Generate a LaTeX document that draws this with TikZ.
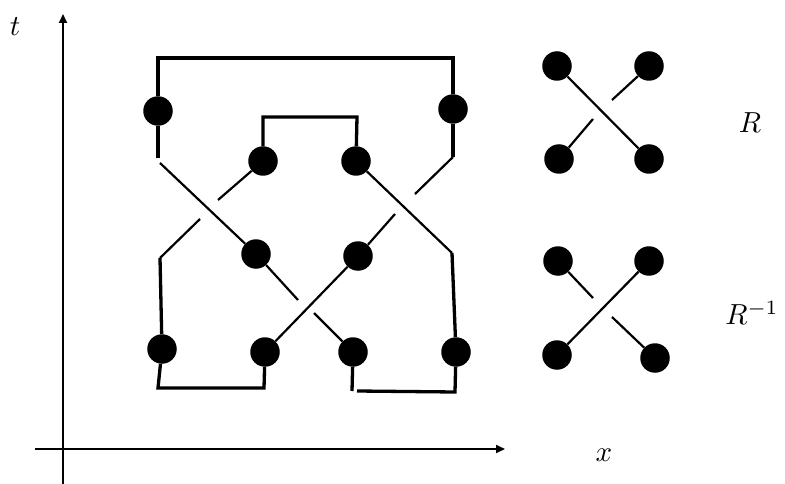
\documentclass[tikz,border=0pt]{standalone}
\usetikzlibrary{arrows.meta}
\begin{document}
\begin{tikzpicture}[x=1pt,y=-1pt,
  dot/.style={circle,fill=black,inner sep=0pt,minimum size=29.5pt},
  frame/.style={line width=3.3pt,line join=miter},
  strand/.style={line width=2.2pt},
  axis/.style={line width=2pt,-{Triangle[length=9pt,width=8pt]}},
  lab/.style={scale=2.9,inner sep=0pt}]
\useasboundingbox (0,0) rectangle (785,484);
% axes
\coordinate (vb) at (63,485);
\coordinate (vt) at (63,14);
\coordinate (hl) at (35,449);
\coordinate (hr) at (505,449);
\draw[axis] (vb) -- (vt);
\draw[axis] (hl) -- (hr);
\node[lab] (tl) at (15,27) {$t$};
\node[lab] (xl) at (604,455) {$x$};
% dots of the braid
\node[dot] (a1) at (158,111) {};
\node[dot] (a2) at (453,109) {};
\node[dot] (b1) at (263,161) {};
\node[dot] (b2) at (356,161) {};
\node[dot] (c1) at (256,254) {};
\node[dot] (c2) at (358,256) {};
\node[dot] (d1) at (162,349) {};
\node[dot] (d2) at (265,352) {};
\node[dot] (d3) at (353,352) {};
\node[dot] (d4) at (456,352) {};
% corner and end coordinates
\coordinate (k1) at (158,58);
\coordinate (k2) at (453,58);
\coordinate (k3) at (158,158);
\coordinate (k4) at (453,157);
\coordinate (k5) at (415,194);
\coordinate (k6) at (263,117);
\coordinate (k7) at (357,117);
\coordinate (e1) at (218,200);
\coordinate (e2) at (200,219);
\coordinate (e3) at (160,258);
\coordinate (e4) at (160,163);
\coordinate (e5) at (298,300);
\coordinate (e6) at (314,313);
\coordinate (e7) at (395,214);
\coordinate (e8) at (452,253);
\coordinate (m1) at (158,388);
\coordinate (m2) at (264,388);
\coordinate (m3) at (352,391);
\coordinate (m4) at (357,391);
\coordinate (m5) at (455,392);
% frame lines
\draw[frame] (a1) -- (k1) -- (k2) -- (a2);
\draw[frame] (a1) -- (k3);
\draw[frame] (b1) -- (k6) -- (k7) -- (b2);
\draw[frame] (a2) -- (k4);
\draw[frame] (e3) -- (d1);
\draw[frame] (e8) -- (d4);
\draw[frame] (d1) -- (m1) -- (m2) -- (d2);
\draw[frame] (d3) -- (m3);
\draw[frame] (m4) -- (m5) -- (d4);
% strands
\draw[strand] (k4) -- (k5);
\draw[strand] (b1) -- (e1);
\draw[strand] (e2) -- (e3);
\draw[strand] (e4) -- (c1);
\draw[strand] (c1) -- (e5);
\draw[strand] (e6) -- (d3);
\draw[strand] (d2) -- (c2);
\draw[strand] (c2) -- (e7);
\draw[strand] (b2) -- (e8);
% R
\node[dot] (r1) at (557,66) {};
\node[dot] (r2) at (649,66) {};
\node[dot] (r3) at (559,159) {};
\node[dot] (r4) at (649,159) {};
\coordinate (rg1) at (612,100);
\coordinate (rg2) at (593,119);
\draw[strand] (r1) -- (r4);
\draw[strand] (r2) -- (rg1);
\draw[strand] (rg2) -- (r3);
\node[lab] (Rl) at (750,123) {$R$};
% R inverse
\node[dot] (s1) at (558,261) {};
\node[dot] (s2) at (649,261) {};
\node[dot] (s3) at (557,355) {};
\node[dot] (s4) at (655,358) {};
\coordinate (sg1) at (593,298);
\coordinate (sg2) at (612,317);
\draw[strand] (s3) -- (s2);
\draw[strand] (s1) -- (sg1);
\draw[strand] (sg2) -- (s4);
\node[lab] (Ril) at (752,313) {$R^{-1}$};
\end{tikzpicture}
\end{document}
